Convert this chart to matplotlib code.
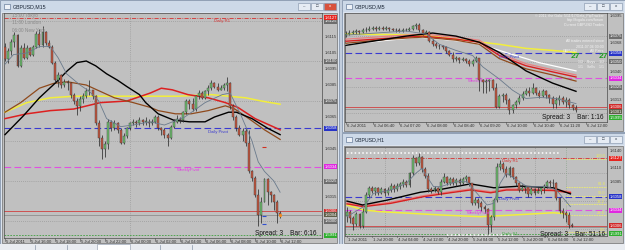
import matplotlib
matplotlib.use("Agg")
import matplotlib.pyplot as plt
from matplotlib.patches import Rectangle

plt.rcParams["font.family"] = ["Liberation Sans", "DejaVu Sans"]

W, H = 625, 250

# ---- levels shared by the three charts ----
daily_r1 = 1.6127
daily_pivot = 1.6058
weekly_pivot = 1.6034
daily_s1 = 1.5991
trade_level = 1.6006
bid_price = 1.6004

# ---- GBPUSD M15 (5 Jul 14:00 -> 6 Jul 12:00) ----
m15_open0 = 1.6109
m15_close = [1.6101, 1.6106, 1.6112, 1.6116, 1.6097, 1.6108, 1.6102, 1.6108, 1.6104, 1.6109,
             1.6117, 1.6110, 1.6118, 1.6111, 1.6109, 1.6099, 1.6088, 1.6091, 1.6085, 1.6087,
             1.6086, 1.6079, 1.6075, 1.6072, 1.6076, 1.6078, 1.6081, 1.6082, 1.6078, 1.6061,
             1.6052, 1.6045, 1.6048, 1.6062, 1.6058, 1.6061, 1.6057, 1.6049, 1.6053, 1.6058,
             1.6061, 1.6062, 1.6061, 1.6063, 1.6062, 1.6062, 1.6061, 1.6062, 1.6065, 1.6058,
             1.6057, 1.6054, 1.6052, 1.6059, 1.6062, 1.6064, 1.6063, 1.6068, 1.6075, 1.6073,
             1.6070, 1.6078, 1.6080, 1.6077, 1.6081, 1.6083, 1.6086, 1.6084, 1.6082, 1.6083,
             1.6085, 1.6086, 1.6072, 1.6065, 1.6058, 1.6054, 1.6056, 1.6049, 1.6031, 1.6027,
             1.6016, 1.6004, 1.6012, 1.6026, 1.6018, 1.6016, 1.6012, 1.6005, 1.6004]
m15_high = [1.6111, 1.6108, 1.6114, 1.6118, 1.6117, 1.6110, 1.6111, 1.6110, 1.6109, 1.6110,
            1.6119, 1.6120, 1.6122, 1.6119, 1.6113, 1.6110, 1.6100, 1.6093, 1.6092, 1.6089,
            1.6088, 1.6087, 1.6080, 1.6077, 1.6078, 1.6080, 1.6083, 1.6088, 1.6082, 1.6079,
            1.6063, 1.6054, 1.6050, 1.6064, 1.6063, 1.6063, 1.6062, 1.6058, 1.6055, 1.6059,
            1.6062, 1.6064, 1.6063, 1.6065, 1.6064, 1.6065, 1.6064, 1.6064, 1.6066, 1.6066,
            1.6059, 1.6058, 1.6055, 1.6060, 1.6064, 1.6066, 1.6065, 1.6069, 1.6076, 1.6076,
            1.6077, 1.6079, 1.6082, 1.6081, 1.6082, 1.6085, 1.6088, 1.6087, 1.6086, 1.6085,
            1.6086, 1.6090, 1.6087, 1.6073, 1.6066, 1.6060, 1.6058, 1.6058, 1.6057, 1.6032,
            1.6028, 1.6020, 1.6015, 1.6027, 1.6027, 1.6019, 1.6017, 1.6013, 1.6006]
m15_low = [1.6100, 1.6099, 1.6104, 1.6109, 1.6096, 1.6096, 1.6101, 1.6101, 1.6103, 1.6103,
           1.6108, 1.6109, 1.6109, 1.6110, 1.6108, 1.6098, 1.6087, 1.6084, 1.6083, 1.6084,
           1.6082, 1.6077, 1.6073, 1.6066, 1.6069, 1.6074, 1.6077, 1.6079, 1.6076, 1.6060,
           1.6047, 1.6039, 1.6040, 1.6045, 1.6056, 1.6057, 1.6055, 1.6048, 1.6048, 1.6052,
           1.6057, 1.6060, 1.6059, 1.6060, 1.6060, 1.6060, 1.6059, 1.6060, 1.6061, 1.6057,
           1.6054, 1.6052, 1.6047, 1.6051, 1.6058, 1.6061, 1.6061, 1.6062, 1.6067, 1.6070,
           1.6069, 1.6069, 1.6076, 1.6076, 1.6076, 1.6079, 1.6082, 1.6083, 1.6081, 1.6082,
           1.6082, 1.6081, 1.6070, 1.6063, 1.6056, 1.6053, 1.6050, 1.6047, 1.6030, 1.6025,
           1.6015, 1.5997, 1.5999, 1.6012, 1.6010, 1.6012, 1.6007, 1.5999, 1.6002]
m15_time_pos = [0, 8, 16, 24, 32, 40, 48, 56, 64, 72, 80, 88]
m15_time_text = ["5 Jul 2011", "5 Jul 16:00", "5 Jul 18:00", "5 Jul 20:00", "5 Jul 22:00",
                 "6 Jul 00:00", "6 Jul 02:00", "6 Jul 04:00", "6 Jul 06:00", "6 Jul 08:00",
                 "6 Jul 10:00", "6 Jul 12:00"]
m15_black_x = [0, 6, 11, 16.5, 20, 23, 26, 29, 32.5, 36, 39, 43, 45, 49, 54, 59, 64, 67, 71.5, 74, 79, 84, 88]
m15_black_y = [1.6054, 1.6066, 1.6077, 1.6087, 1.6094, 1.6099, 1.6100, 1.6097, 1.6092, 1.6088, 1.6084,
               1.6079, 1.6074, 1.6067, 1.6063, 1.6062, 1.6062, 1.6065, 1.6068, 1.6068, 1.6064, 1.6058, 1.6054]
m15_brown_x = [0, 5, 11, 15.5, 20, 26, 30.5, 35, 41, 46.5, 49, 54.5, 59.5, 65, 70.5, 73.5, 78, 83, 88]
m15_brown_y = [1.6068, 1.6074, 1.6083, 1.6086, 1.6087, 1.6085, 1.6081, 1.6077, 1.6074, 1.6071,
               1.6069, 1.6067, 1.6067, 1.6069, 1.6072, 1.6070, 1.6064, 1.6057, 1.6051]
m15_red_x = [0, 7, 14.5, 22, 30.5, 39, 46.5, 50, 53.5, 58.5, 65, 70.5, 74.5, 80, 88]
m15_red_y = [1.6064, 1.6067, 1.6069, 1.6070, 1.6074, 1.6075, 1.6080, 1.6083, 1.6082, 1.6079,
             1.6077, 1.6074, 1.6071, 1.6064, 1.6057]
m15_yellow_x = [0, 7, 14.5, 22, 30.5, 39, 46.5, 55.5, 66, 77, 82, 88]
m15_yellow_y = [1.6068, 1.6074, 1.6077, 1.6078, 1.6078, 1.6078, 1.6078, 1.6078, 1.6079, 1.6077, 1.6075, 1.6073]
m15_gray_x = [0, 2.7, 7, 11, 14.5, 17, 19.7, 24, 27, 30, 32.5, 37, 41, 46.5, 51, 57.5, 64, 69.5, 72,
              75.5, 79, 81, 83, 86, 88]
m15_gray_y = [1.6098, 1.6104, 1.6105, 1.6109, 1.6109, 1.6102, 1.6092, 1.6085, 1.6081, 1.6075, 1.6064,
              1.6059, 1.6060, 1.6062, 1.6060, 1.6065, 1.6074, 1.6079, 1.6080, 1.6066, 1.6050, 1.6037,
              1.6031, 1.6025, 1.6018]
m15_marks_x = [83, 83, 83]
m15_marks_y = [1.6046, 1.6003, 1.5998]
m15_marks_c = ["#d03020", "#3050d0", "#3050d0"]

# ---- GBPUSD M5 (6 Jul 06:00 -> 11:45) ----
m5_open0 = 1.6076
m5_close = [1.6077, 1.6078, 1.6079, 1.6080, 1.6079, 1.6081, 1.6081, 1.6082, 1.6083, 1.6082,
            1.6083, 1.6082, 1.6083, 1.6082, 1.6081, 1.6081, 1.6080, 1.6081, 1.6081, 1.6082,
            1.6085, 1.6086, 1.6081, 1.6078, 1.6079, 1.6070, 1.6067, 1.6065, 1.6065, 1.6064,
            1.6060, 1.6057, 1.6053, 1.6054, 1.6052, 1.6053, 1.6051, 1.6048, 1.6051, 1.6054,
            1.6032, 1.6030, 1.6031, 1.6032, 1.6024, 1.6006, 1.6016, 1.6017, 1.6013, 1.6003,
            1.6008, 1.6011, 1.6014, 1.6018, 1.6021, 1.6019, 1.6024, 1.6019, 1.6016, 1.6021,
            1.6017, 1.6014, 1.6009, 1.6013, 1.6014, 1.6011, 1.6013, 1.6008, 1.6005, 1.6003]
m5_high = [1.6080, 1.6081, 1.6081, 1.6082, 1.6081, 1.6083, 1.6084, 1.6085, 1.6085, 1.6085,
           1.6085, 1.6085, 1.6085, 1.6084, 1.6083, 1.6083, 1.6083, 1.6083, 1.6083, 1.6084,
           1.6086, 1.6088, 1.6088, 1.6082, 1.6081, 1.6080, 1.6072, 1.6069, 1.6067, 1.6066,
           1.6065, 1.6061, 1.6059, 1.6056, 1.6055, 1.6055, 1.6054, 1.6053, 1.6053, 1.6056,
           1.6054, 1.6033, 1.6033, 1.6033, 1.6033, 1.6029, 1.6018, 1.6019, 1.6019, 1.6014,
           1.6009, 1.6013, 1.6017, 1.6021, 1.6024, 1.6025, 1.6029, 1.6025, 1.6022, 1.6023,
           1.6022, 1.6018, 1.6016, 1.6015, 1.6017, 1.6016, 1.6015, 1.6014, 1.6009, 1.6008]
m5_low = [1.6074, 1.6076, 1.6077, 1.6077, 1.6077, 1.6078, 1.6079, 1.6080, 1.6081, 1.6080,
          1.6081, 1.6081, 1.6081, 1.6080, 1.6080, 1.6079, 1.6079, 1.6079, 1.6080, 1.6080,
          1.6081, 1.6082, 1.6079, 1.6076, 1.6077, 1.6069, 1.6065, 1.6063, 1.6062, 1.6062,
          1.6058, 1.6056, 1.6050, 1.6051, 1.6049, 1.6051, 1.6049, 1.6046, 1.6046, 1.6050,
          1.6021, 1.6019, 1.6019, 1.6021, 1.6022, 1.6005, 1.6005, 1.6011, 1.6009, 1.5999,
          1.6000, 1.6005, 1.6009, 1.6013, 1.6017, 1.6016, 1.6018, 1.6017, 1.6014, 1.6015,
          1.6014, 1.6010, 1.6005, 1.6005, 1.6008, 1.6009, 1.6006, 1.6005, 1.6003, 1.6001]
m5_time_pos = [0, 8, 16, 24, 32, 40, 48, 56, 64, 72]
m5_time_text = ["6 Jul 2011", "6 Jul 06:40", "6 Jul 07:20", "6 Jul 08:00", "6 Jul 08:40",
                "6 Jul 09:20", "6 Jul 10:00", "6 Jul 10:40", "6 Jul 11:20", "6 Jul 12:00"]
m5_yellow_x = [0, 23, 38, 46, 54, 62, 69]
m5_yellow_y = [1.6077, 1.6076, 1.6070, 1.6067, 1.6063, 1.6061, 1.6059]
m5_white_x = [0, 22, 38, 48, 58, 69]
m5_white_y = [1.6067, 1.6074, 1.6069, 1.6059, 1.6049, 1.6041]
m5_red_x = [0, 13, 23, 33, 40, 46, 54, 62, 69]
m5_red_y = [1.6070, 1.6073, 1.6075, 1.6072, 1.6069, 1.6056, 1.6046, 1.6040, 1.6035]
m5_pink_y = [1.6072, 1.6075, 1.6077, 1.6074, 1.6071, 1.6058, 1.6048, 1.6042, 1.6037]
m5_brown_y = [1.6068, 1.6072, 1.6074, 1.6071, 1.6067, 1.6053, 1.6043, 1.6037, 1.6031]
m5_black_x = [0, 8, 18, 26, 33, 40, 46, 54, 62, 69]
m5_black_y = [1.6066, 1.6070, 1.6075, 1.6078, 1.6075, 1.6069, 1.6059, 1.6041, 1.6029, 1.6021]
m5_gray_x = [0, 18, 24, 28, 33, 38, 41, 46, 50, 54, 58, 63, 69]
m5_gray_y = [1.6076, 1.6080, 1.6077, 1.6067, 1.6061, 1.6056, 1.6045, 1.6033, 1.6022, 1.6014,
             1.6015, 1.6014, 1.6009]

# ---- GBPUSD H1 (1 Jul 12:00 -> 6 Jul 12:00) ----
h1_open0 = 1.6023
h1_close = [1.6031, 1.6019, 1.6009, 1.6027, 1.6005, 1.6031, 1.6061, 1.6073, 1.6069, 1.6073,
            1.6065, 1.6071, 1.6064, 1.6070, 1.6077, 1.6071, 1.6077, 1.6081, 1.6085, 1.6079,
            1.6100, 1.6127, 1.6118, 1.6130, 1.6107, 1.6095, 1.6071, 1.6069, 1.6073, 1.6067,
            1.6085, 1.6094, 1.6083, 1.6089, 1.6082, 1.6088, 1.6083, 1.6089, 1.6093, 1.6082,
            1.6047, 1.6052, 1.6046, 1.6039, 1.6035, 1.6007, 1.6021, 1.6052, 1.6112, 1.6117,
            1.6107, 1.6097, 1.6109, 1.6093, 1.6082, 1.6070, 1.6073, 1.6076, 1.6063, 1.6071,
            1.6065, 1.6069, 1.6073, 1.6077, 1.6085, 1.6082, 1.6083, 1.6055, 1.6033, 1.6028,
            1.6025, 1.6007, 1.6005]
h1_high = [1.6040, 1.6034, 1.6023, 1.6031, 1.6028, 1.6037, 1.6067, 1.6077, 1.6077, 1.6076,
           1.6075, 1.6076, 1.6073, 1.6075, 1.6083, 1.6081, 1.6082, 1.6085, 1.6089, 1.6088,
           1.6103, 1.6133, 1.6130, 1.6136, 1.6131, 1.6111, 1.6101, 1.6076, 1.6077, 1.6076,
           1.6089, 1.6100, 1.6095, 1.6093, 1.6093, 1.6091, 1.6091, 1.6093, 1.6097, 1.6094,
           1.6083, 1.6058, 1.6055, 1.6051, 1.6043, 1.6037, 1.6025, 1.6055, 1.6118, 1.6124,
           1.6121, 1.6113, 1.6113, 1.6111, 1.6095, 1.6085, 1.6081, 1.6079, 1.6077, 1.6075,
           1.6073, 1.6077, 1.6076, 1.6081, 1.6088, 1.6088, 1.6089, 1.6085, 1.6058, 1.6037,
           1.6033, 1.6031, 1.6011]
h1_low = [1.6013, 1.6010, 1.5998, 1.6005, 1.6001, 1.6001, 1.6028, 1.6058, 1.6064, 1.6061,
          1.6061, 1.6063, 1.6059, 1.6061, 1.6067, 1.6067, 1.6069, 1.6071, 1.6076, 1.6075,
          1.6076, 1.6097, 1.6113, 1.6115, 1.6103, 1.6091, 1.6067, 1.6064, 1.6067, 1.6063,
          1.6061, 1.6083, 1.6079, 1.6079, 1.6079, 1.6077, 1.6079, 1.6081, 1.6085, 1.6077,
          1.6043, 1.6043, 1.6037, 1.6033, 1.6029, 1.5991, 1.5995, 1.6016, 1.6049, 1.6106,
          1.6103, 1.6093, 1.6094, 1.6089, 1.6077, 1.6067, 1.6069, 1.6065, 1.6058, 1.6061,
          1.6061, 1.6064, 1.6063, 1.6065, 1.6073, 1.6076, 1.6073, 1.6052, 1.6029, 1.6019,
          1.6013, 1.6001, 1.6003]
h1_time_pos = [0, 8, 16, 24, 32, 40, 48, 56, 64, 72]
h1_time_text = ["1 Jul 2011", "1 Jul 20:00", "4 Jul 04:00", "4 Jul 12:00", "4 Jul 20:00",
                "5 Jul 04:00", "5 Jul 12:00", "5 Jul 20:00", "6 Jul 04:00", "6 Jul 12:00"]
h1_black_x = [0, 5, 13, 23.5, 29, 39.5, 47, 55.5, 66, 71.5]
h1_black_y = [1.6050, 1.6043, 1.6052, 1.6066, 1.6070, 1.6081, 1.6074, 1.6077, 1.6074, 1.6063]
h1_red_x = [0, 5.3, 14, 24.5, 33, 39.5, 46, 51, 57.5, 66, 71.5]
h1_red_y = [1.6045, 1.6040, 1.6046, 1.6058, 1.6065, 1.6070, 1.6065, 1.6070, 1.6070, 1.6069, 1.6065]
h1_pink_y = [1.6047, 1.6042, 1.6048, 1.6060, 1.6067, 1.6072, 1.6067, 1.6072, 1.6072, 1.6071, 1.6067]
h1_yellow_x = [0, 5.3, 10.7, 30, 42.7, 53.3, 66, 70.5]
h1_yellow_y = [1.6043, 1.6034, 1.6031, 1.6025, 1.6022, 1.6025, 1.6029, 1.6027]
h1_gray_x = [0, 5.3, 8.5, 14, 19, 22, 24, 25.6, 27.7, 30, 35, 38.4, 41.6, 44.8, 47, 49, 51, 54.4,
             57.6, 64, 67, 71.5]
h1_gray_y = [1.6022, 1.6040, 1.6064, 1.6070, 1.6082, 1.6100, 1.6109, 1.6094, 1.6076, 1.6076,
             1.6085, 1.6085, 1.6064, 1.6043, 1.6046, 1.6082, 1.6100, 1.6088, 1.6076, 1.6076,
             1.6070, 1.6040]
h1_fib_text = ["100.0", "61.8", "50.0", "38.2", "23.6", "0.0"]
h1_fib_price = [1.6126, 1.6076, 1.6060, 1.6044, 1.6025, 1.5994]
h1_week_high = 1.6136
h1_week_low = 1.5989

# ---- colours ----
CHART_BG = "#c0c0c0"
FRAME = "#dbe3ee"
TITLE_BG = "#cdd9e8"
BULL = "#6fbe6f"
BEAR = "#c4563f"
WICK = "#2e2e2e"
AX_TXT = "#333333"
GRID = "#8c8c8c"

fig = plt.figure(figsize=(W / 100, H / 100), dpi=100)
fig.patch.set_facecolor("#c3cedd")

bg = fig.add_axes([0, 0, 1, 1], zorder=-1)
bg.set_xlim(0, W)
bg.set_ylim(H, 0)
bg.axis("off")


def px_rect(x0, y0, x1, y1):
    return [x0 / W, 1 - y1 / H, (x1 - x0) / W, (y1 - y0) / H]


def ftext(x, y, s, **kw):
    kw.setdefault("va", "center")
    fig.text(x / W, 1 - y / H, s, **kw)


def window(x0, y0, x1, y1, title, active):
    bg.add_patch(Rectangle((x0, y0), x1 - x0, y1 - y0, fc=FRAME, ec="#8797ad", lw=0.6))
    bg.add_patch(Rectangle((x0 + 1, y0 + 1), x1 - x0 - 2, 11, fc=TITLE_BG, ec="none"))
    bg.add_patch(Rectangle((x0 + 2, y0 + 12.5), x1 - x0 - 4, y1 - y0 - 13.5, fc=CHART_BG,
                           ec="#707070", lw=0.5))
    bg.add_patch(Rectangle((x0 + 4, y0 + 3.5), 6, 5, fc="#eef2f8", ec="#4e6688", lw=0.4))
    bg.text(x0 + 13, y0 + 6.5, title, fontsize=3.8, va="center", ha="left", color="#1b2636")
    for k, bx in enumerate((x1 - 41, x1 - 28, x1 - 15)):
        fc = "#d8513c" if (active and k == 2) else "#e6ecf4"
        bg.add_patch(Rectangle((bx, y0 + 2.5), 12, 7.5, fc=fc, ec="#7e8ea5", lw=0.4))
        glyph = ["\u2013", "\u25a1", "x"][k]
        bg.text(bx + 6, y0 + 6.3, glyph, fontsize=3.2, ha="center", va="center",
                color="white" if fc == "#d8513c" else "#303a48")


window(0, 0, 339, 244, "GBPUSD,M15", True)
window(342, 0, 625, 132, "GBPUSD,M5", False)
window(342, 133, 625, 244, "GBPUSD,H1", False)

# tab strip along the bottom
bg.add_patch(Rectangle((0, 244), W, 6, fc="#e9ecf1", ec="none"))
bg.add_patch(Rectangle((97, 244), 33, 6, fc="white", ec="#8a96a8", lw=0.4))
for tx in (35, 67, 160, 192):
    bg.plot([tx, tx], [244.5, 250], color="#8a96a8", lw=0.5)


def chart_axes(rect, xlim, ylim):
    ax = fig.add_axes(px_rect(*rect))
    ax.set_facecolor(CHART_BG)
    ax.set_xlim(*xlim)
    ax.set_ylim(*ylim)
    ax.set_xticks([])
    ax.set_yticks([])
    for s in ax.spines.values():
        s.set_color("#4a4a4a")
        s.set_linewidth(0.5)
    return ax


def draw_candles(ax, first_open, closes, highs, lows, width=0.62):
    opens = [first_open] + closes[:-1]
    for i, (o, c, h, l) in enumerate(zip(opens, closes, highs, lows)):
        ax.vlines(i, min(l, o, c), max(h, o, c), color=WICK, lw=0.55, zorder=4)
        lo, hi = min(o, c), max(o, c)
        ax.add_patch(Rectangle((i - width / 2, lo), width, max(hi - lo, 0.00003),
                               fc=BULL if c >= o else BEAR, ec="#3a3a3a", lw=0.3, zorder=5))


def time_labels(ax, pos, texts):
    tr = ax.get_xaxis_transform()
    for p, t in zip(pos, texts):
        ax.plot([p, p], [0, -0.015], transform=tr, color="#4a4a4a", lw=0.4, clip_on=False)
        ax.annotate(t, xy=(p, 0), xycoords=tr, xytext=(0.6, -1.2), textcoords="offset points",
                    ha="left", va="top", fontsize=3.1, color=AX_TXT, annotation_clip=False)


def price_label(ax, price, fc=None, tc=AX_TXT):
    kw = dict(xy=(1, price), xycoords=ax.get_yaxis_transform(), xytext=(1.6, 0),
              textcoords="offset points", ha="left", va="center", fontsize=3.0, color=tc,
              annotation_clip=False)
    if fc:
        kw["bbox"] = dict(boxstyle="square,pad=0.12", fc=fc, ec="none")
    ax.annotate(f"{price:.4f}", **kw)


def grid(ax, levels, verticals=()):
    for lv in levels:
        ax.axhline(lv, color=GRID, lw=0.5, ls=(0, (1, 2)), zorder=1)
    for v in verticals:
        ax.axvline(v, color=GRID, lw=0.5, ls=(0, (1, 2)), zorder=1)


def pivots(ax, with_r1=True):
    if with_r1:
        ax.axhline(daily_r1, color="#d83030", lw=0.6, ls=(0, (5, 1.5, 1, 1.5)), zorder=2)
    ax.axhline(daily_pivot, color="#3a3ad0", lw=0.8, ls=(0, (6, 3)), zorder=2)
    ax.axhline(weekly_pivot, color="#e050e0", lw=0.8, ls=(0, (6, 3)), zorder=2)
    ax.axhline(daily_s1, color="#40a040", lw=0.6, ls=(0, (2, 1.5)), zorder=2)
    ax.axhline(trade_level, color="#d04040", lw=0.6, zorder=2)
    ax.axhline(bid_price, color="#8e8e8e", lw=0.6, zorder=2)


PIV_FONT = 3.1

# ================= left: M15 =================
ax1 = chart_axes((4, 13, 322, 238), (-0.32, 101.4), (1.59894, 1.6130))
grid(ax1, [1.6125, 1.6100, 1.6075, 1.6050, 1.6025, 1.6000], [40])
pivots(ax1)
ax1.plot(m15_yellow_x, m15_yellow_y, color="#f2ee3c", lw=1.1, zorder=3)
ax1.plot(m15_red_x, m15_red_y, color="#dd2020", lw=1.1, zorder=3)
ax1.plot(m15_brown_x, m15_brown_y, color="#8f4a1c", lw=0.9, zorder=3)
ax1.plot(m15_black_x, m15_black_y, color="black", lw=1.0, zorder=3)
draw_candles(ax1, m15_open0, m15_close, m15_high, m15_low)
ax1.plot(m15_gray_x, m15_gray_y, color="#6a7a8c", lw=0.6, zorder=6)
for mx, my, mc in zip(m15_marks_x, m15_marks_y, m15_marks_c):
    ax1.plot(mx, my, marker="_", ms=2.5, mew=0.8, color=mc, zorder=6)
ax1.plot(len(m15_close) - 1, m15_close[-1], "o", ms=1.3, color="#f08a20", zorder=7)
ax1.text(67, daily_r1 - 0.0001, "Daily R1", color="#d83030", fontsize=PIV_FONT, va="top")
ax1.text(65, daily_pivot - 0.0001, "Daily Pivot", color="#3a3ad0", fontsize=PIV_FONT, va="top")
ax1.text(55, weekly_pivot - 0.0001, "WeeklyPivot", color="#e040e0", fontsize=PIV_FONT, va="top")
time_labels(ax1, m15_time_pos, m15_time_text)
for p in [1.6115, 1.6105, 1.6095, 1.6085, 1.6065, 1.6045, 1.6015]:
    price_label(ax1, p)
for p in [1.6125, 1.6100, 1.6075, 1.6025, 1.6000]:
    price_label(ax1, p, "#6e6e6e", "white")
for p, c in [(daily_r1, "#e52520"), (daily_pivot, "#2733c8"), (weekly_pivot, "#e028e0"),
             (trade_level, "#d02a2a"), (bid_price, "#5e5e48"), (daily_s1, "#2fae2f")]:
    price_label(ax1, p, c, "white")
ftext(12, 16, "15:00 Tokyo", fontsize=3.4, color="#8a8a8a")
ftext(12, 23, "11:00 London", fontsize=3.4, color="#8a8a8a")
ftext(12, 30, "06:00 New York", fontsize=3.4, color="#8a8a8a")
ftext(316, 233.5, "Spread: 3    Bar: 6:16", fontsize=4.7, color="#111111", ha="right")

# ================= top right: M5 =================
ax2 = chart_axes((345, 13, 607, 122), (-0.3, 78.3), (1.5991, 1.60976))
grid(ax2, [1.6075, 1.6050, 1.6025, 1.6000])
pivots(ax2, with_r1=False)
ax2.plot(m5_yellow_x, m5_yellow_y, color="#f2ee3c", lw=1.1, zorder=3)
ax2.plot(m5_white_x, m5_white_y, color="white", lw=0.9, zorder=3)
ax2.plot(m5_red_x, m5_pink_y, color="#e88080", lw=0.9, zorder=3)
ax2.plot(m5_red_x, m5_red_y, color="#d82020", lw=1.0, zorder=3)
ax2.plot(m5_red_x, m5_brown_y, color="#8f4a1c", lw=0.9, zorder=3)
ax2.plot(m5_black_x, m5_black_y, color="black", lw=1.0, zorder=3)
draw_candles(ax2, m5_open0, m5_close, m5_high, m5_low, width=0.6)
ax2.plot(m5_gray_x, m5_gray_y, color="#6a7a8c", lw=0.6, zorder=6)
ax2.text(46, daily_pivot - 0.0001, "Daily Pivot", color="#3a3ad0", fontsize=PIV_FONT, va="top")
ax2.text(36.5, weekly_pivot - 0.0001, "WeeklyPivot", color="#e040e0", fontsize=PIV_FONT, va="top")
time_labels(ax2, m5_time_pos, m5_time_text)
for p in [1.6095, 1.6068, 1.6040, 1.6013]:
    price_label(ax2, p)
for p in [1.6075, 1.6050, 1.6025]:
    price_label(ax2, p, "#6e6e6e", "white")
for p, c in [(daily_pivot, "#2733c8"), (weekly_pivot, "#e028e0"), (trade_level, "#d02a2a"),
             (1.6001, "#5e5e48"), (1.5995, "#2fae2f")]:
    price_label(ax2, p, c, "white")
info = dict(fontsize=2.6, color="#f4f4f4", ha="right")
ftext(604, 15.5, "\u00a9 2011, the Gala: 5/11/17/Gala_PipTracker", **info)
ftext(604, 20.5, "http://fxgala.com/forum", **info)
ftext(604, 25.5, "Current GBPUSD Trades", **info)
ftext(604, 41.5, "All trades entered since", **info)
ftext(604, 46.5, "2011.07.06 00:00", **info)
ftext(563, 51.5, "GBPUSD", fontsize=2.6, color="#f4f4f4", ha="left")
ftext(604, 51.5, "All Pairs", **info)
ftext(575, 56.5, "27", fontsize=6, color="#22a022", ha="center", fontweight="bold")
ftext(603, 56.5, "27", fontsize=6, color="#22a022", ha="center", fontweight="bold")
ftext(604, 62.5, "1/2    Buys    1/2", **info)
ftext(604, 67.5, "1/1    Sells    1/1", **info)
ftext(604, 117.5, "Spread: 3    Bar: 1:16", fontsize=4.7, color="#111111", ha="right")

# ================= bottom right: H1 =================
ax3 = chart_axes((345, 147, 607, 236), (-0.64, 83.2), (1.59872, 1.61474))
grid(ax3, [1.6100, 1.6050, 1.6000], [12, 36, 60])
pivots(ax3)
ax3.hlines(h1_week_high, 0, 68, color="white", lw=1.1, ls=(0, (1, 1.5)), zorder=2)
ax3.hlines(h1_week_low, 32, 53, color="white", lw=1.1, ls=(0, (1, 1.5)), zorder=2)
ax3.axvline(70, color="#7a9a7a", lw=0.5, ls=(0, (1, 2)), zorder=2)
for fp, ft in zip(h1_fib_price, h1_fib_text):
    ax3.hlines(fp, 70, 83.2, color="#ecec70", lw=0.6, ls=(0, (2, 1)), zorder=2)
    ax3.annotate(ft, xy=(82.6, fp), xytext=(0, 0.3), textcoords="offset points",
                 color="#e8e860", fontsize=2.9, ha="right", va="bottom")
ax3.plot(h1_yellow_x, h1_yellow_y, color="#f2ee3c", lw=1.1, zorder=3)
ax3.plot(h1_red_x, h1_pink_y, color="#e88080", lw=0.9, zorder=3)
ax3.plot(h1_red_x, h1_red_y, color="#d82020", lw=1.0, zorder=3)
ax3.plot(h1_black_x, h1_black_y, color="black", lw=1.0, zorder=3)
draw_candles(ax3, h1_open0, h1_close, h1_high, h1_low)
ax3.plot(h1_gray_x, h1_gray_y, color="#6a7a8c", lw=0.6, zorder=6)
ax3.text(49.5, daily_r1 - 0.0001, "Daily R1", color="#d83030", fontsize=PIV_FONT, va="top", zorder=7)
ax3.text(48.6, daily_pivot - 0.0001, "Daily Pivot", color="#3a3ad0", fontsize=PIV_FONT, va="top", zorder=7)
ax3.text(38.4, weekly_pivot - 0.0001, "WeeklyPivot", color="#e040e0", fontsize=PIV_FONT, va="top", zorder=7)
ax3.text(49.6, daily_s1, "Daily S1", color="#40b040", fontsize=PIV_FONT, va="center", zorder=7)
time_labels(ax3, h1_time_pos, h1_time_text)
for p in [1.6140, 1.6110, 1.6085]:
    price_label(ax3, p)
for p, c in [(daily_r1, "#e52520"), (daily_pivot, "#2733c8"), (weekly_pivot, "#e028e0"),
             (trade_level, "#d02a2a"), (daily_s1, "#2fae2f")]:
    price_label(ax3, p, c, "white")
ftext(605, 234.8, "Spread: 3    Bar: 51:16", fontsize=4.7, color="#111111", ha="right")

fig.savefig("out.png", dpi=100, facecolor=fig.get_facecolor())
